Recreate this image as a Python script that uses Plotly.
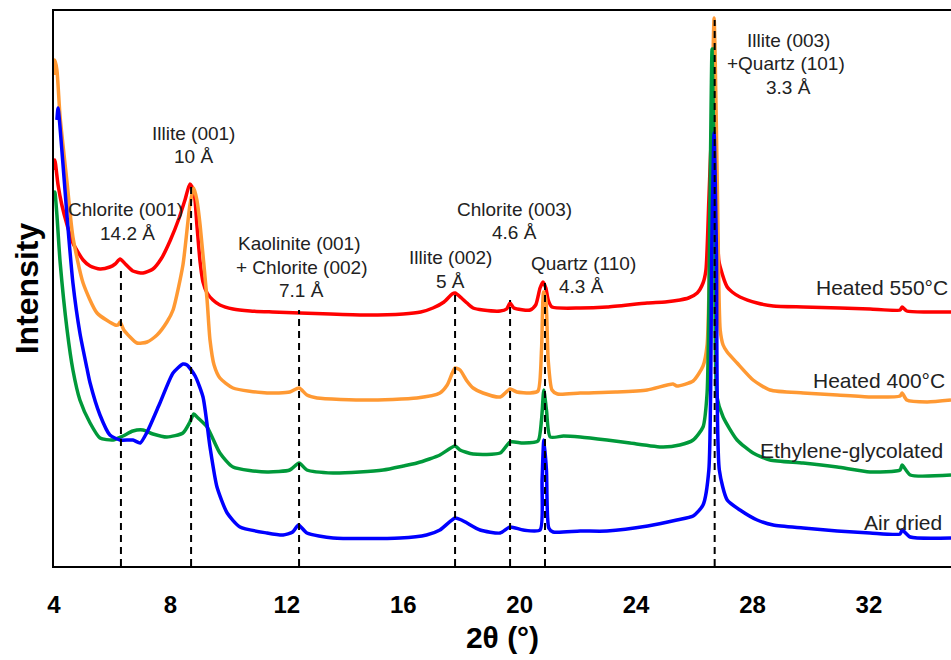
import plotly.graph_objects as go

# ---- data (2θ in degrees, intensity in arbitrary units) ----
red_x = [4.00, 4.03, 4.14, 4.27, 4.45, 4.65, 5.00, 5.24, 5.58, 5.92, 6.10, 6.27, 6.45, 6.71, 7.06, 7.40, 7.70,
         8.00, 8.30, 8.50, 8.67, 8.80, 8.91, 9.02, 9.12, 9.26, 9.46, 9.70, 10.15, 10.74, 11.50, 12.45, 13.50,
         14.76, 16.00, 16.60, 17.02, 17.40, 17.68, 17.78, 18.00, 18.19, 18.40, 18.74, 19.33, 19.55, 19.67, 19.80,
         20.36, 20.55, 20.70, 20.80, 20.90, 20.98, 21.11, 22.08, 23.00, 24.38, 25.00, 25.51, 25.80, 26.10, 26.30, 26.40,
         26.50, 26.62, 26.74, 26.84, 26.89, 27.13, 27.30, 27.57, 28.16, 28.71, 29.74, 31.01, 32.04, 33.07, 33.14,
         33.30, 34.00, 34.82]
red_y = [396, 406, 381, 361, 341, 323, 306, 300, 297, 299, 302, 307, 302, 295, 293, 297, 308,
         326, 348, 366, 382, 376, 341, 304, 284, 273, 266, 261, 257, 255, 254, 253, 252,
         251, 252, 254, 258, 264, 272, 273, 268, 263, 258, 256, 255, 257, 263, 258,
         256, 261, 278, 284, 278, 266, 259, 258, 259, 263, 264, 266, 268, 273, 283, 296,
         366, 446, 366, 306, 299, 279, 274, 269, 263, 260, 259, 258, 257, 256, 259,
         255, 254, 254]

orange_x = [4.00, 4.03, 4.10, 4.21, 4.45, 4.65, 5.00, 5.48, 6.10, 6.20, 6.27, 6.40, 6.85, 7.20, 7.54, 7.88,
            8.09, 8.43, 8.67, 8.80, 8.91, 9.02, 9.26, 9.36, 9.50, 9.70, 10.15, 11.32, 12.10, 12.42, 12.69,
            13.04, 14.76, 16.47, 17.26, 17.51, 17.78, 17.95, 18.19, 18.40, 18.74, 19.33, 19.67, 19.90, 20.36,
            20.63, 20.75, 20.82, 20.90, 20.98, 21.11, 21.30, 22.08, 23.30, 24.38, 25.27, 25.40, 25.96, 26.30, 26.44,
            26.56, 26.68, 26.80, 26.89, 26.99, 27.13, 27.47, 28.02, 28.60, 29.74, 30.91, 32.04, 33.07, 33.14,
            33.30, 34.00, 34.82]
orange_y = [491, 506, 496, 449, 383, 329, 283, 253, 241, 241, 244, 236, 223, 224, 231, 244,
            256, 301, 361, 378, 366, 341, 266, 226, 201, 188, 178, 173, 174, 178, 171,
            168, 166, 168, 173, 181, 198, 196, 185, 178, 173, 169, 177, 174, 173,
            175, 216, 274, 266, 206, 176, 172, 173, 174, 176, 182, 180, 185, 200, 221,
            366, 548, 366, 236, 221, 214, 203, 186, 176, 173, 171, 169, 170, 173,
            166, 164, 166]

green_x = [4.00, 4.03, 4.10, 4.21, 4.45, 4.65, 4.89, 5.24, 5.58, 6.03, 6.37, 6.71, 7.06, 7.40, 7.88, 8.43,
           8.67, 8.80, 8.95, 9.26, 9.70, 10.15, 11.32, 12.10, 12.42, 12.69, 13.59, 14.50, 15.31, 16.00, 16.47,
           16.90, 17.26, 17.78, 17.95, 18.40, 19.33, 19.67, 20.12, 20.63, 20.75, 20.83, 20.92, 21.05, 21.50,
           22.08, 23.00, 23.79, 24.93, 25.50, 25.96, 26.30, 26.44, 26.54, 26.61, 26.70, 26.78, 26.99, 27.47,
           28.02, 28.60, 29.74, 30.91, 32.04, 33.07, 33.14, 33.42, 34.82]
green_y = [366, 374, 351, 304, 236, 196, 166, 143, 128, 126, 130, 135, 136, 132, 129, 133,
           144, 152, 148, 139, 113, 99, 94, 96, 103, 96, 93, 94, 96, 100, 103,
           107, 111, 120, 116, 112, 113, 124, 123, 125, 146, 176, 156, 129, 130,
           129, 126, 123, 119, 121, 126, 139, 173, 366, 517, 366, 169, 149, 126,
           113, 106, 103, 99, 94, 96, 101, 91, 91]

blue_x = [4.10, 4.14, 4.27, 4.45, 4.65, 4.89, 5.13, 5.24, 5.58, 5.92, 6.27, 6.71, 6.96, 7.20, 7.64, 8.09,
          8.43, 8.57, 8.85, 9.12, 9.36, 9.60, 9.95, 10.39, 11.32, 11.87, 12.20, 12.40, 12.69, 13.59, 15.89,
          16.80, 17.26, 17.78, 18.00, 18.19, 18.64, 19.33, 19.67, 20.12, 20.70, 20.77, 20.83, 20.92, 21.00, 21.15,
          22.08, 23.00, 24.40, 25.40, 25.96, 26.30, 26.50, 26.60, 26.68, 26.76, 26.86, 27.13, 27.57, 28.16, 28.71,
          29.74, 30.91, 32.04, 33.07, 33.14, 33.42, 34.82]
blue_y = [446, 458, 416, 349, 283, 233, 198, 183, 151, 131, 126, 126, 123, 134, 163, 193,
          202, 201, 190, 169, 119, 79, 53, 39, 33, 31, 34, 41, 33, 28, 28,
          31, 36, 48, 46, 43, 36, 33, 39, 36, 36, 86, 126, 96, 38, 34,
          35, 35, 40, 46, 50, 61, 96, 316, 433, 316, 96, 66, 56, 46, 41,
          38, 35, 33, 32, 36, 29, 28]

# reflection positions (2θ) and the height of each marker line
ref_pos = [6.30, 8.71, 12.42, 17.78, 19.67, 20.87, 26.70]
ref_top = [299, 383, 256, 271, 266, 283, 546]

series_names = ["Heated 550°C", "Heated 400°C", "Ethylene-glycolated", "Air dried"]
series_colors = ["#FF0000", "#FF9933", "#00993A", "#0000FF"]

fig = go.Figure()
for xs, ys, name, col in zip([red_x, orange_x, green_x, blue_x],
                             [red_y, orange_y, green_y, blue_y],
                             series_names, series_colors):
    fig.add_trace(go.Scatter(x=xs, y=ys, mode="lines", name=name,
                             line=dict(color=col, width=3.5, shape="spline", smoothing=0.6),
                             showlegend=False))

for xp, yt in zip(ref_pos, ref_top):
    fig.add_trace(go.Scatter(x=[xp, xp], y=[0, yt], mode="lines", showlegend=False,
                             line=dict(color="black", width=2, dash="7px,5px")))

txt_font = dict(family="Liberation Sans, Arial, sans-serif", size=19, color="#222222")
lab_font = dict(family="Liberation Sans, Arial, sans-serif", size=21, color="#222222")

peak_labels = [
    ("Chlorite (001)", 6.44, 357), ("14.2 Å", 6.51, 333),
    ("Illite (001)", 8.78, 433), ("10 Å", 8.78, 410),
    ("Kaolinite (001)", 12.45, 323), ("+ Chlorite (002)", 12.52, 299), ("7.1 Å", 12.52, 276),
    ("Illite (002)", 17.64, 309), ("5 Å", 17.61, 285),
    ("Chlorite (003)", 19.81, 357), ("4.6 Å", 19.81, 334),
    ("Quartz (110)", 22.18, 303), ("4.3 Å", 22.14, 280),
    ("Illite (003)", 29.22, 526), ("+Quartz (101)", 29.15, 503), ("3.3 Å", 29.22, 479),
]
for t, xa, ya in peak_labels:
    fig.add_annotation(x=xa, y=ya, text=t, showarrow=False, xanchor="center",
                       yanchor="middle", font=txt_font)

series_label_pos = [(34.79, 279), (34.69, 186), (34.62, 116), (34.58, 44)]
for name, (xa, ya) in zip(series_names, series_label_pos):
    fig.add_annotation(x=xa, y=ya, text=name, showarrow=False, xanchor="right",
                       yanchor="middle", font=lab_font)

fig.update_layout(
    width=951, height=660,
    margin=dict(l=54, r=0, t=11, b=94),
    paper_bgcolor="white", plot_bgcolor="white",
    xaxis=dict(range=[4, 34.82], tickvals=[4, 8, 12, 16, 20, 24, 28, 32],
               showgrid=False, zeroline=False, showline=True, linecolor="black",
               linewidth=2, mirror=True, ticks="", ticklabelstandoff=16,
               tickfont=dict(family="Liberation Sans, Arial, sans-serif", size=24,
                             color="black", weight="bold"),
               title=dict(text="2θ (°)", standoff=10,
                          font=dict(family="Liberation Sans, Arial, sans-serif", size=30,
                                    color="black", weight="bold"))),
    yaxis=dict(range=[0, 555], showgrid=False, zeroline=False, showline=True,
               linecolor="black", linewidth=2, showticklabels=False, ticks="",
               title=dict(text="Intensity", standoff=4,
                          font=dict(family="Liberation Sans, Arial, sans-serif", size=32,
                                    color="black", weight="bold"))),
)

fig.write_html("out.html")
